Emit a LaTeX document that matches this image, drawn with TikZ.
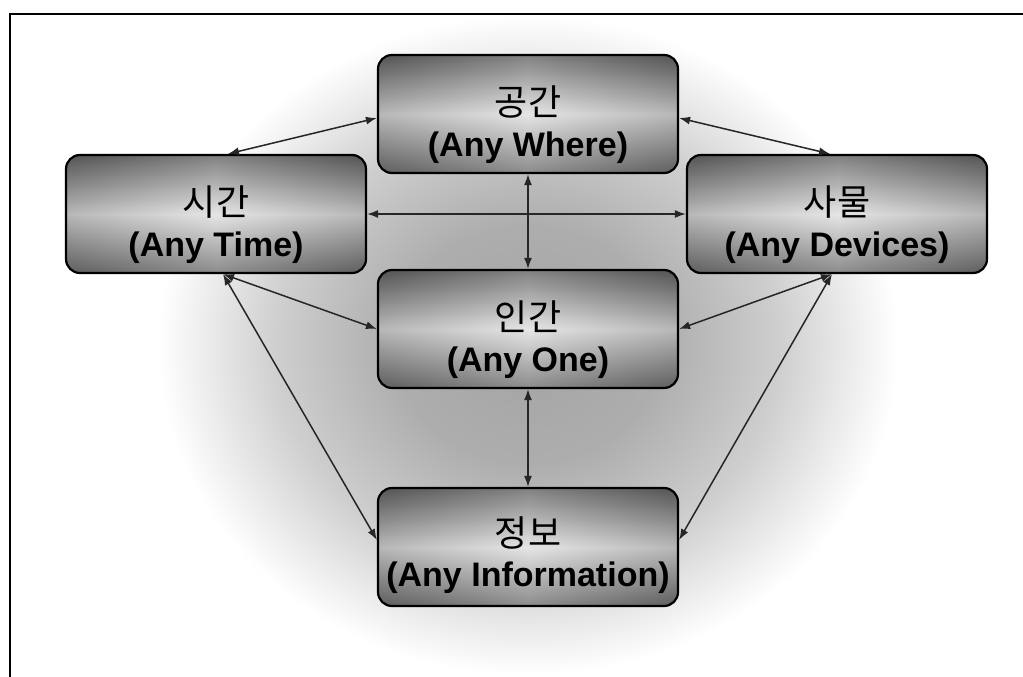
\documentclass[tikz,border=0pt]{standalone}
\usepackage{fontspec}
\setmainfont{Liberation Sans}
\newfontfamily\hangul{Noto Sans CJK KR}
\usetikzlibrary{arrows.meta}

% soft grey glow behind the diagram (path box maps to radius 25bp)
\pgfdeclareradialshading{glow}{\pgfpoint{0bp}{0bp}}{%
  color(0bp)=(black!36); color(9bp)=(black!32); color(17bp)=(black!19);
  color(22bp)=(black!7); color(25bp)=(white); color(50bp)=(white)}

\begin{document}
\begin{tikzpicture}[x=1pt,y=-1pt,
  box/.style={draw=black, line width=2.2pt, rounded corners=14pt,
    minimum width=300pt, minimum height=118pt, inner sep=0pt,
    top color=black!60, bottom color=black!55, middle color=black!12,
    path picture={\shade[left color=black, right color=black, middle color=white,
      opacity=0.18] (path picture bounding box.south west)
      rectangle (path picture bounding box.north east);}},
  kor/.style={font=\hangul\fontsize{36}{40}\selectfont, inner sep=0pt, text=black},
  eng/.style={font=\bfseries\fontsize{34}{38}\selectfont, inner sep=0pt, text=black},
  link/.style={{Latex[length=11pt,width=8pt]}-{Latex[length=11pt,width=8pt]},
    line width=1.5pt, draw=black!85},
  frame/.style={line width=2pt, draw=black}]

\useasboundingbox (0,0) rectangle (1023,677);
\fill[white] (0,0) rectangle (1023,677);

% page frame (top and left rules)
\draw[frame] (10,677) -- (10,14) -- (1023,14);

% background glow
\shade[shading=glow] (528,345) ellipse [x radius=370, y radius=330];

% the five boxes
\node[box] (gg) at (528,114) {};
\node[box] (sg) at (216,214) {};
\node[box] (sm) at (837,214) {};
\node[box] (ig) at (528,329) {};
\node[box] (jb) at (528,547) {};

% labels
\node[kor] (gg-k) at ([yshift=12pt]gg.center) {공간};
\node[eng] (gg-e) at ([yshift=-34pt]gg.center) {(Any Where)};
\node[kor] (sg-k) at ([yshift=12pt]sg.center) {시간};
\node[eng] (sg-e) at ([yshift=-34pt]sg.center) {(Any Time)};
\node[kor] (sm-k) at ([yshift=12pt]sm.center) {사물};
\node[eng] (sm-e) at ([yshift=-34pt]sm.center) {(Any Devices)};
\node[kor] (ig-k) at ([yshift=12pt]ig.center) {인간};
\node[eng] (ig-e) at ([yshift=-34pt]ig.center) {(Any One)};
\node[kor] (jb-k) at ([yshift=14pt]jb.center) {정보};
\node[eng] (jb-e) at ([yshift=-31pt]jb.center) {(Any Information)};

% connectors
\draw[link] ([xshift=12pt]sg.north) -- ([yshift=-4pt]gg.west);
\draw[link] ([yshift=-4pt]gg.east) -- ([xshift=-7pt]sm.north);
\draw[link] (sg.east) -- (sm.west);
\draw[link] (gg.south) -- (ig.north);
\draw[link] ([xshift=7pt]sg.south) -- (ig.west);
\draw[link] ([xshift=-5pt]sm.south) -- (ig.east);
\draw[link] ([xshift=7pt]sg.south) -- ([yshift=7pt]jb.west);
\draw[link] ([xshift=-5pt]sm.south) -- ([yshift=7pt]jb.east);
\draw[link] (ig.south) -- (jb.north);
\end{tikzpicture}
\end{document}
